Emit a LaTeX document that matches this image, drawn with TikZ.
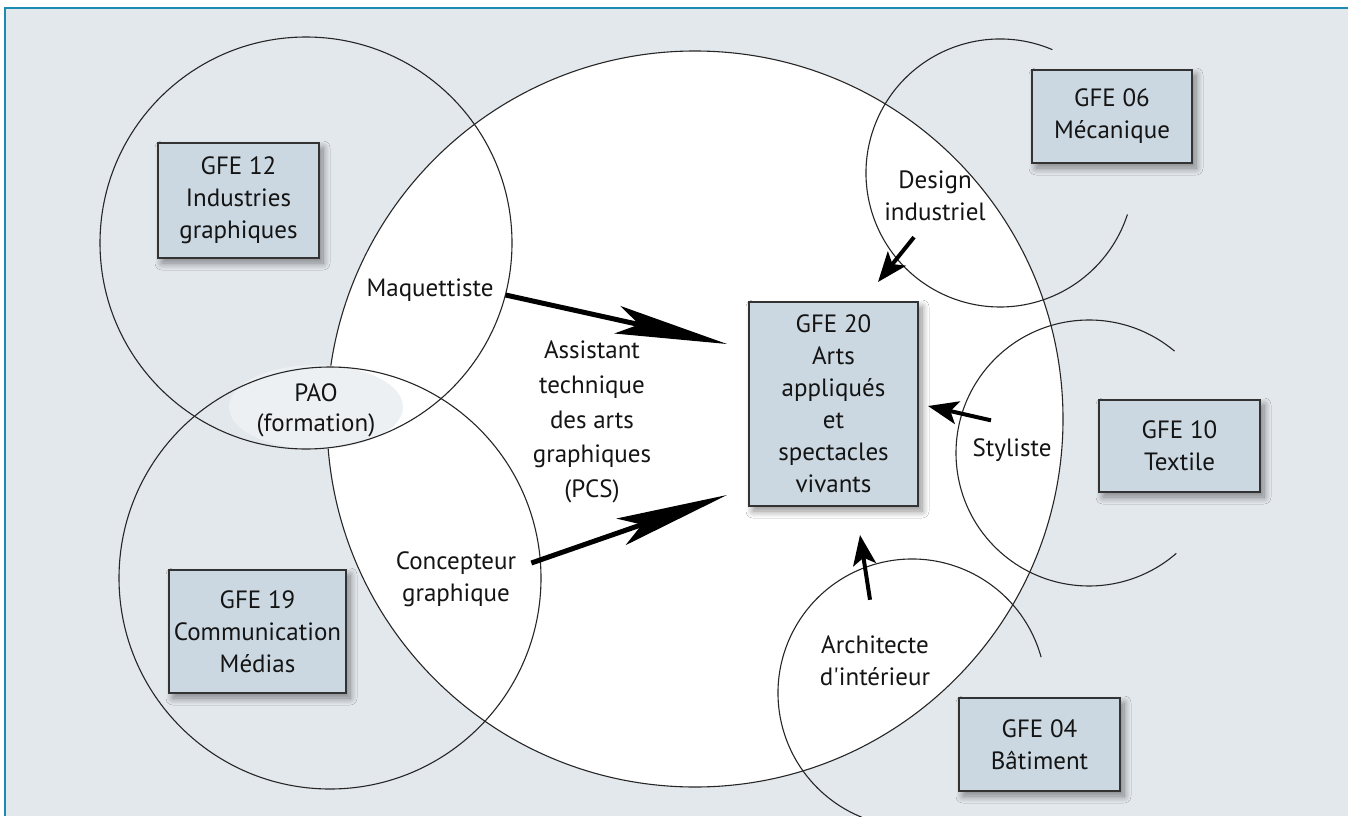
\documentclass[tikz,border=0pt]{standalone}
\usepackage{fontspec}
\setmainfont{PT Sans}
\usetikzlibrary{arrows.meta}
\usetikzlibrary{shadows.blur}
\usepackage{xcolor}
\definecolor{fond}{HTML}{E3E8ED}
\definecolor{cadre}{HTML}{1A8CB4}
\definecolor{boite}{HTML}{CBD8E1}
\definecolor{pao}{HTML}{EDF0F3}

\begin{document}
\begin{tikzpicture}[x=1pt,y=-1pt,font=\fontsize{25}{32}\selectfont,text=black!92,
  gfe/.style={rectangle,draw=black!80,line width=1.1pt,fill=boite,align=center,inner sep=0pt,
    blur shadow={shadow xshift=4pt,shadow yshift=-5pt,shadow blur radius=7pt,shadow blur steps=12,shadow opacity=45}},
  metier/.style={align=center,inner sep=2pt},
  rond/.style={draw=black!85,line width=1.1pt},
  grosse/.style={line width=5pt,-{Stealth[length=112pt,width=28pt,inset=22pt]}},
  petite/.style={line width=4pt,-{Stealth[length=30pt,width=23pt,inset=7pt]}}]
\useasboundingbox (0,0) rectangle (1348,816);
\fill [fond] (5,8) rectangle (1348,816);
\draw [cadre,line width=1.5pt] (5,816) -- (5,8) -- (1348,8);

\draw [rond,fill=white] (695,419) circle (368);
\fill [pao] (316,407) ellipse (87 and 42);
\draw [rond] (306,243) circle (206);
\draw [rond] (330,578) circle (211);
\draw [rond] (1000,173) ++(-67:134) arc [start angle=-67,end angle=-342,radius=134];
\draw [rond] (1089,453) ++(-50:133) arc [start angle=-50,end angle=-311,radius=133];
\draw [rond] (912,693) ++(-15.5:134) arc [start angle=-15.5,end angle=-248,radius=134];

\node [gfe,minimum width=161pt,minimum height=115pt] (gfe12) at (238.5,200.5) {GFE 12\\Industries\\graphiques};
\node [gfe,minimum width=177pt,minimum height=123pt] (gfe19) at (257.5,631.5) {GFE 19\\Communication\\Médias};
\node [gfe,minimum width=160pt,minimum height=93pt] (gfe06) at (1112,116.5) {GFE 06\\Mécanique};
\node [gfe,minimum width=161pt,minimum height=92pt] (gfe10) at (1179.5,446) {GFE 10\\Textile};
\node [gfe,minimum width=161pt,minimum height=93pt] (gfe04) at (1039.5,744.5) {GFE 04\\Bâtiment};
\node [gfe,minimum width=169pt,minimum height=204pt] (gfe20) at (833.5,404) {GFE 20\\Arts\\appliqués\\et\\spectacles\\vivants};

\node [metier] (maquettiste) at (430,290) {Maquettiste};
\node [metier,font=\fontsize{25}{34.6}\selectfont] (assistant) at (592,422) {Assistant\\technique\\des arts\\graphiques\\(PCS)};
\node [metier] (concepteur) at (456,579) {Concepteur\\graphique};
\node [metier,font=\fontsize{25}{30}\selectfont] (pao) at (316,410) {PAO\\(formation)};
\node [metier] (design) at (935,196) {Design\\industriel};
\node [metier] (styliste) at (1012,450) {Styliste};
\node [metier] (architecte) at (875,661) {Architecte\\d\textquotesingle{}intérieur};

\coordinate (tmaq) at (727,344);
\coordinate (tconc) at (727,495);
\coordinate (tdesign) at (878,282);
\coordinate (tstyl) at (928,406);
\coordinate (tarch) at (860,535);

\draw [grosse] ([shift={(10,5)}]maquettiste.east) -- (tmaq);
\draw [grosse] ([shift={(13,-16)}]concepteur.east) -- (tconc);
\draw [petite] ([shift={(-21,14)}]design.south) -- (tdesign);
\draw [petite] ([shift={(-21,-16)}]styliste.north) -- (tstyl);
\draw [petite] ([shift={(-5,-34)}]architecte.north) -- (tarch);
\end{tikzpicture}
\end{document}
